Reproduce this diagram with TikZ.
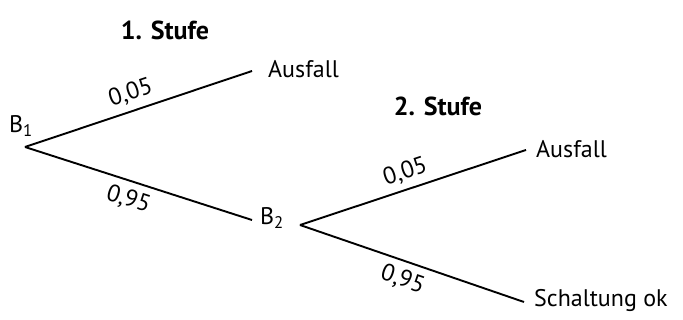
\documentclass[tikz,border=0pt]{standalone}
\usepackage{fontspec}
\setmainfont{PT Sans}
\begin{document}
\begin{tikzpicture}[x=1pt,y=-1pt,
  branch/.style={line width=1.9pt},
  prob/.style={font=\fontsize{24}{28}\selectfont, sloped, inner sep=0pt},
  lbl/.style={font=\fontsize{24}{28}\selectfont, inner sep=0pt},
  stage/.style={font=\fontsize{26}{30}\selectfont\bfseries, inner sep=0pt}]
\useasboundingbox (0,0) rectangle (683,320);
\coordinate (r1) at (25,147);
\coordinate (e1) at (252,71);
\coordinate (e2) at (252,220);
\coordinate (r2) at (300,225);
\coordinate (e3) at (526,150);
\coordinate (e4) at (524,302);
\node[stage] (s1) at (165,30) {1. Stufe};
\node[stage] (s2) at (438,106) {2. Stufe};
\node[lbl] (b1) at (21,126) {B\textsubscript{1}};
\node[lbl] (b2) at (272,218) {B\textsubscript{2}};
\node[lbl, anchor=west] (a1) at (268,69) {Ausfall};
\node[lbl, anchor=west] (a2) at (536,149) {Ausfall};
\node[lbl, anchor=west] (ok) at (534,301) {Schaltung ok};
\draw[branch] (r1) -- node[prob, pos=0.49, above=6pt] {0,05} (e1);
\draw[branch] (r1) -- node[prob, pos=0.48, below=7pt] {0,95} (e2);
\draw[branch] (r2) -- node[prob, pos=0.49, above=6pt] {0,05} (e3);
\draw[branch] (r2) -- node[prob, pos=0.485, below=7pt] {0,95} (e4);
\end{tikzpicture}
\end{document}
